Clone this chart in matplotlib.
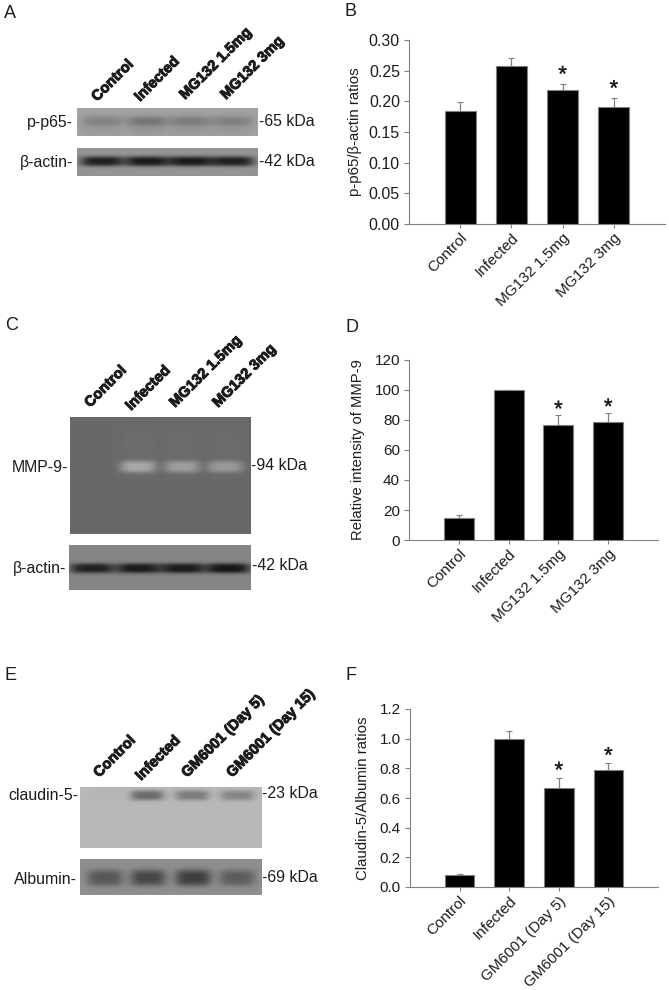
# plot.py
# Western blots and bar charts, panels A-F
import numpy as np
import matplotlib
matplotlib.use("Agg")
import matplotlib.pyplot as plt
import matplotlib.patheffects as pe

plt.rcParams["font.family"] = ["Liberation Sans", "DejaVu Sans"]

W, H = 669, 990
GRAY = "#808080"
INK = "#1c1c1c"

# ── bar data ──────────────────────────────────────────────
mg_labels = ["Control", "Infected", "MG132 1.5mg", "MG132 3mg"]
gm_labels = ["Control", "Infected", "GM6001 (Day 5)", "GM6001 (Day 15)"]

p65_vals = [0.185, 0.258, 0.218, 0.190]
p65_errs = [0.014, 0.012, 0.010, 0.015]
p65_ticks = [0.00, 0.05, 0.10, 0.15, 0.20, 0.25, 0.30]

mmp_vals = [15, 100, 77, 78.5]
mmp_errs = [1.5, 0, 6, 6]
mmp_ticks = [0, 20, 40, 60, 80, 100, 120]

cld_vals = [0.08, 1.00, 0.665, 0.79]
cld_errs = [0.01, 0.05, 0.07, 0.045]
cld_ticks = [0.0, 0.2, 0.4, 0.6, 0.8, 1.0, 1.2]

starred = [2, 3]

# ── blot band strengths (change from background grey) ─────
p65_band = [-0.13, -0.18, -0.16, -0.14]
actin_a_band = [-0.46, -0.48, -0.48, -0.46]
mmp_band = [0.0, 0.25, 0.21, 0.19]
actin_c_band = [-0.40, -0.42, -0.42, -0.44]
cld_band = [-0.01, -0.30, -0.24, -0.20]
alb_band = [-0.22, -0.28, -0.32, -0.20]


def px_ax(x0, y0, x1, y1):
    return fig.add_axes([x0 / W, 1 - y1 / H, (x1 - x0) / W, (y1 - y0) / H])


def label(x, y, s, size=11.4, **kw):
    kw.setdefault("ha", "left")
    kw.setdefault("va", "center")
    return fig.text(x / W, 1 - y / H, s, fontsize=size, color=INK, **kw)


def blot(box, bg, centers, strengths, cy, half_w, half_h, power=2, ghost=None):
    # soft bands on a flat grey ground, ghost = faint smear (y, half height, share)
    x0, y0, x1, y1 = box
    xx, yy = np.meshgrid(np.arange(x0, x1, 0.5), np.arange(y0, y1, 0.5))
    img = np.full(xx.shape, float(bg))
    for c, s in zip(centers, strengths):
        across = np.exp(-np.abs((xx - c) / half_w) ** 4)
        img += s * across * np.exp(-np.abs((yy - cy) / half_h) ** power)
        if ghost:
            img += s * ghost[2] * across * np.exp(-((yy - ghost[0]) / ghost[1]) ** 2)
    ax = px_ax(x0, y0, x1, y1)
    ax.imshow(img, cmap="gray", vmin=0, vmax=1, aspect="auto",
              interpolation="bilinear")
    ax.axis("off")
    return ax


def bars(box, vals, errs, ticks, ymax, labels, ylabel, ylabel_x, fmt,
         tick_size, ylabel_size, star_gap):
    x0, y0, x1, y1 = box
    ax = px_ax(x0, y0, x1, y1)
    pos = np.arange(1, len(vals) + 1)
    ax.errorbar(pos, vals, yerr=[np.zeros(len(errs)), errs], fmt="none",
                ecolor=GRAY, elinewidth=0.9, capsize=2.2, capthick=0.8, zorder=2)
    ax.bar(pos, vals, width=0.6, color="black", edgecolor=GRAY,
           linewidth=0.8, zorder=3)
    ax.set_xlim(0, 5)
    ax.set_ylim(0, ymax)
    ax.set_xticks(pos)
    ax.set_xticklabels(labels, rotation=45, ha="right", va="top",
                       rotation_mode="anchor", fontsize=11, color=INK)
    ax.set_yticks(ticks)
    ax.set_yticklabels([fmt % t for t in ticks], fontsize=tick_size, color=INK)
    ax.tick_params(axis="x", length=3, width=0.8, color=GRAY, pad=2)
    ax.tick_params(axis="y", length=3.5, width=0.8, color=GRAY, pad=3)
    for side in ["top", "right"]:
        ax.spines[side].set_visible(False)
    for side in ["left", "bottom"]:
        ax.spines[side].set_color(GRAY)
        ax.spines[side].set_linewidth(0.8)
    for i in starred:
        ax.annotate("*", (pos[i], vals[i] + errs[i]), xytext=(0, star_gap),
                    textcoords="offset points", ha="center", va="bottom",
                    fontsize=16, color=INK,
                    path_effects=[pe.withStroke(linewidth=0.2, foreground=INK)])
    label(ylabel_x, (y0 + y1) / 2, ylabel, rotation=90, ha="center",
          size=ylabel_size)
    return ax


def lane_names(points, names, size=10.6):
    for (x, y), name in zip(points, names):
        label(x, y, name, size=size, fontweight="bold", rotation=45,
              rotation_mode="anchor", ha="left", va="baseline",
              path_effects=[pe.withStroke(linewidth=0.7, foreground=INK)])


fig = plt.figure(figsize=(W / 100, H / 100), dpi=100, facecolor="white")

# panel letters
for x, y, s in [(4, 13, "A"), (344, 12, "B"), (5, 326, "C"),
                (345, 328, "D"), (5, 676, "E"), (345, 675, "F")]:
    label(x, y, s, size=13)

# ── A ─────────────────────────────────────────────────────
lane_names([(97, 102), (140, 102), (185, 100), (226, 100)], mg_labels)
blot((77, 108, 258, 136), 0.64, [102, 147, 190, 232], p65_band, 121, 21, 5.5,
     ghost=(131, 5, 0.25))
blot((77, 148, 258, 176), 0.58, [102, 147, 190, 232], actin_a_band, 161, 22, 5, power=3)
label(73, 122, "p-p65-", ha="right")
label(73, 162, "β-actin-", ha="right")
label(259, 121, "-65 kDa")
label(259, 161, "-42 kDa")

# ── B ─────────────────────────────────────────────────────
bars((409, 40, 665, 224), p65_vals, p65_errs, p65_ticks, 0.30, mg_labels,
     "p-p65/β-actin ratios", 355, "%.2f", 11.5, 10.8, -1.5)

# ── C ─────────────────────────────────────────────────────
lane_names([(90, 408), (131, 411), (175, 408), (218, 408)], mg_labels)
blot((70, 417, 251, 534), 0.41, [94, 138, 182, 225], mmp_band, 467, 18, 6, power=3,
     ghost=(445, 18, 0.07))
blot((69, 545, 250, 590), 0.52, [92, 138, 182, 227], actin_c_band, 568, 22, 5, power=3)
label(68, 468, "MMP-9-", ha="right")
label(66, 568, "β-actin-", ha="right")
label(251, 466, "-94 kDa")
label(252, 566, "-42 kDa")

# ── D ─────────────────────────────────────────────────────
bars((409, 360, 658, 540), mmp_vals, mmp_errs, mmp_ticks, 120, mg_labels,
     "Relative intensity of MMP-9", 358, "%d", 11, 10.6, -4)

# ── E ─────────────────────────────────────────────────────
lane_names([(99, 778), (141, 781), (187, 778), (232, 778)], gm_labels)
blot((80, 787, 262, 848), 0.72, [105, 147, 192, 237], cld_band, 796, 17, 5, power=3)
blot((80, 859, 262, 895), 0.56, [105, 148, 193, 237], alb_band, 878, 18, 8, power=3)
label(78, 795, "claudin-5-", ha="right")
label(77, 879, "Albumin-", ha="right")
label(262, 794, "-23 kDa")
label(262, 877, "-69 kDa")

# ── F ─────────────────────────────────────────────────────
bars((410, 709, 658, 887), cld_vals, cld_errs, cld_ticks, 1.2, gm_labels,
     "Claudin-5/Albumin ratios", 363, "%.1f", 11, 10.8, -3)

fig.savefig("out.png", dpi=100)
plt.close(fig)
